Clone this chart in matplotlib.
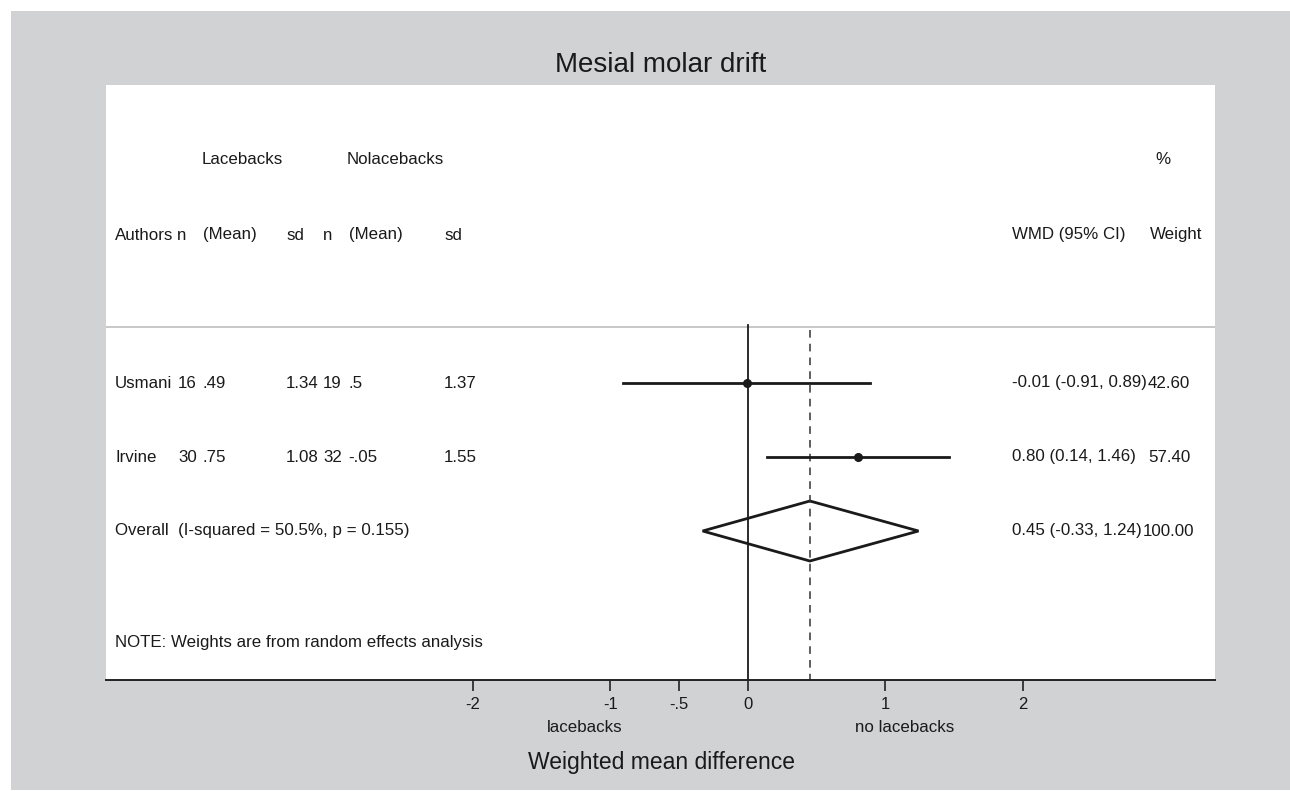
import matplotlib.pyplot as plt
from matplotlib.patches import Rectangle, Polygon

plt.rcParams['font.family'] = ['Liberation Sans', 'DejaVu Sans']

# data per study
authors = ['Usmani', 'Irvine']
n_lace = ['16', '30']
mean_lace = ['.49', '.75']
sd_lace = ['1.34', '1.08']
n_nolace = ['19', '32']
mean_nolace = ['.5', '-.05']
sd_nolace = ['1.37', '1.55']
wmd = [-0.01, 0.80]
ci_low = [-0.91, 0.14]
ci_high = [0.89, 1.46]
weights = ['42.60', '57.40']

# pooled estimate
overall = 0.45
overall_low = -0.33
overall_high = 1.24
overall_weight = '100.00'
overall_label = 'Overall  (I-squared = 50.5%, p = 0.155)'

tick_vals = [-2, -1, -0.5, 0, 1, 2]
tick_labels = ['-2', '-1', '-.5', '0', '1', '2']

W, H = 1290, 791
fig = plt.figure(figsize=(W / 100, H / 100), dpi=100, facecolor='white')
fig.patches.append(Rectangle((11 / W, 1 / H), (W - 11) / W, (790 - 11) / H,
                             transform=fig.transFigure, facecolor='#d1d2d4',
                             edgecolor='none', zorder=-5))

# plot area in pixel coords
left, right, top, bottom = 106, 1215, 85, 680
ax = fig.add_axes([left / W, 1 - bottom / H, (right - left) / W, (bottom - top) / H])
ax.set_zorder(1)
ax.set_facecolor('white')
x0px, scale = 748, 137.5
ax.set_xlim((left - x0px) / scale, (right - x0px) / scale)
ax.set_ylim(bottom, top)
for s in ['top', 'right', 'left']:
    ax.spines[s].set_visible(False)
ax.spines['bottom'].set_linewidth(1.4)
ax.spines['bottom'].set_color('#222222')
ax.set_yticks([])
ax.set_xticks(tick_vals)
ax.set_xticklabels(tick_labels)
ax.tick_params(axis='x', direction='out', length=8, width=1.2, color='#222222',
               labelsize=12, pad=4, labelcolor='#1a1a1a')

FS = 12.2


def ftext(px, py, s, size=FS, ha='left'):
    fig.text(px / W, 1 - py / H, s, fontsize=size, ha=ha, va='center', color='#1a1a1a',
             zorder=5)


# row positions
row_y = [383, 457]
overall_y = 531

# separator and reference lines
ax.plot([ax.get_xlim()[0], ax.get_xlim()[1]], [327, 327], color='#bdbdbd', lw=1.2)
ax.plot([0, 0], [325, bottom], color='#1a1a1a', lw=1.3)
ax.plot([overall, overall], [330, bottom], color='#333333', lw=1.1, dashes=(5, 4))

for i in range(len(authors)):
    ax.plot([ci_low[i], ci_high[i]], [row_y[i], row_y[i]], color='#1a1a1a', lw=2)
    ax.plot(wmd[i], row_y[i], 'o', color='#1a1a1a', ms=5.5)

ax.add_patch(Polygon([(overall_low, overall_y), (overall, overall_y - 30),
                      (overall_high, overall_y), (overall, overall_y + 30)],
                     closed=True, fill=False, edgecolor='#1a1a1a', lw=2))

# headers
fig.text(661 / W, 1 - 65 / H, 'Mesial molar drift', fontsize=20, ha='center', va='center',
         color='#1a1a1a')
ftext(202, 160, 'Lacebacks')
ftext(347, 160, 'Nolacebacks')
ftext(1163, 160, '%', ha='center')
cols = [115, 177, 203, 286, 323, 349, 444]
for px, s in zip(cols, ['Authors', 'n', '(Mean)', 'sd', 'n', '(Mean)', 'sd']):
    ftext(px, 235, s)
ftext(1012, 235, 'WMD (95% CI)')
ftext(1150, 235, 'Weight')

# study rows
for i in range(len(authors)):
    y = row_y[i]
    ftext(115, y, authors[i])
    ftext(178, y, n_lace[i])
    ftext(203, y, mean_lace[i])
    ftext(286, y, sd_lace[i])
    ftext(323, y, n_nolace[i])
    ftext(348, y, mean_nolace[i])
    ftext(444, y, sd_nolace[i])
    ftext(1012, y, f'{wmd[i]:.2f} ({ci_low[i]:.2f}, {ci_high[i]:.2f})')
    ftext(1148, y, weights[i])

ftext(115, overall_y, overall_label)
ftext(1012, overall_y, f'{overall:.2f} ({overall_low:.2f}, {overall_high:.2f})')
ftext(1143, overall_y, overall_weight)
ftext(115, 643, 'NOTE: Weights are from random effects analysis')

# axis captions
ftext(585, 727, 'lacebacks', ha='center')
ftext(905, 727, 'no lacebacks', ha='center')
fig.text(661 / W, 1 - 763 / H, 'Weighted mean difference', fontsize=16.5, ha='center',
         va='center', color='#1a1a1a')

fig.savefig('out.png', dpi=100, facecolor='white')
